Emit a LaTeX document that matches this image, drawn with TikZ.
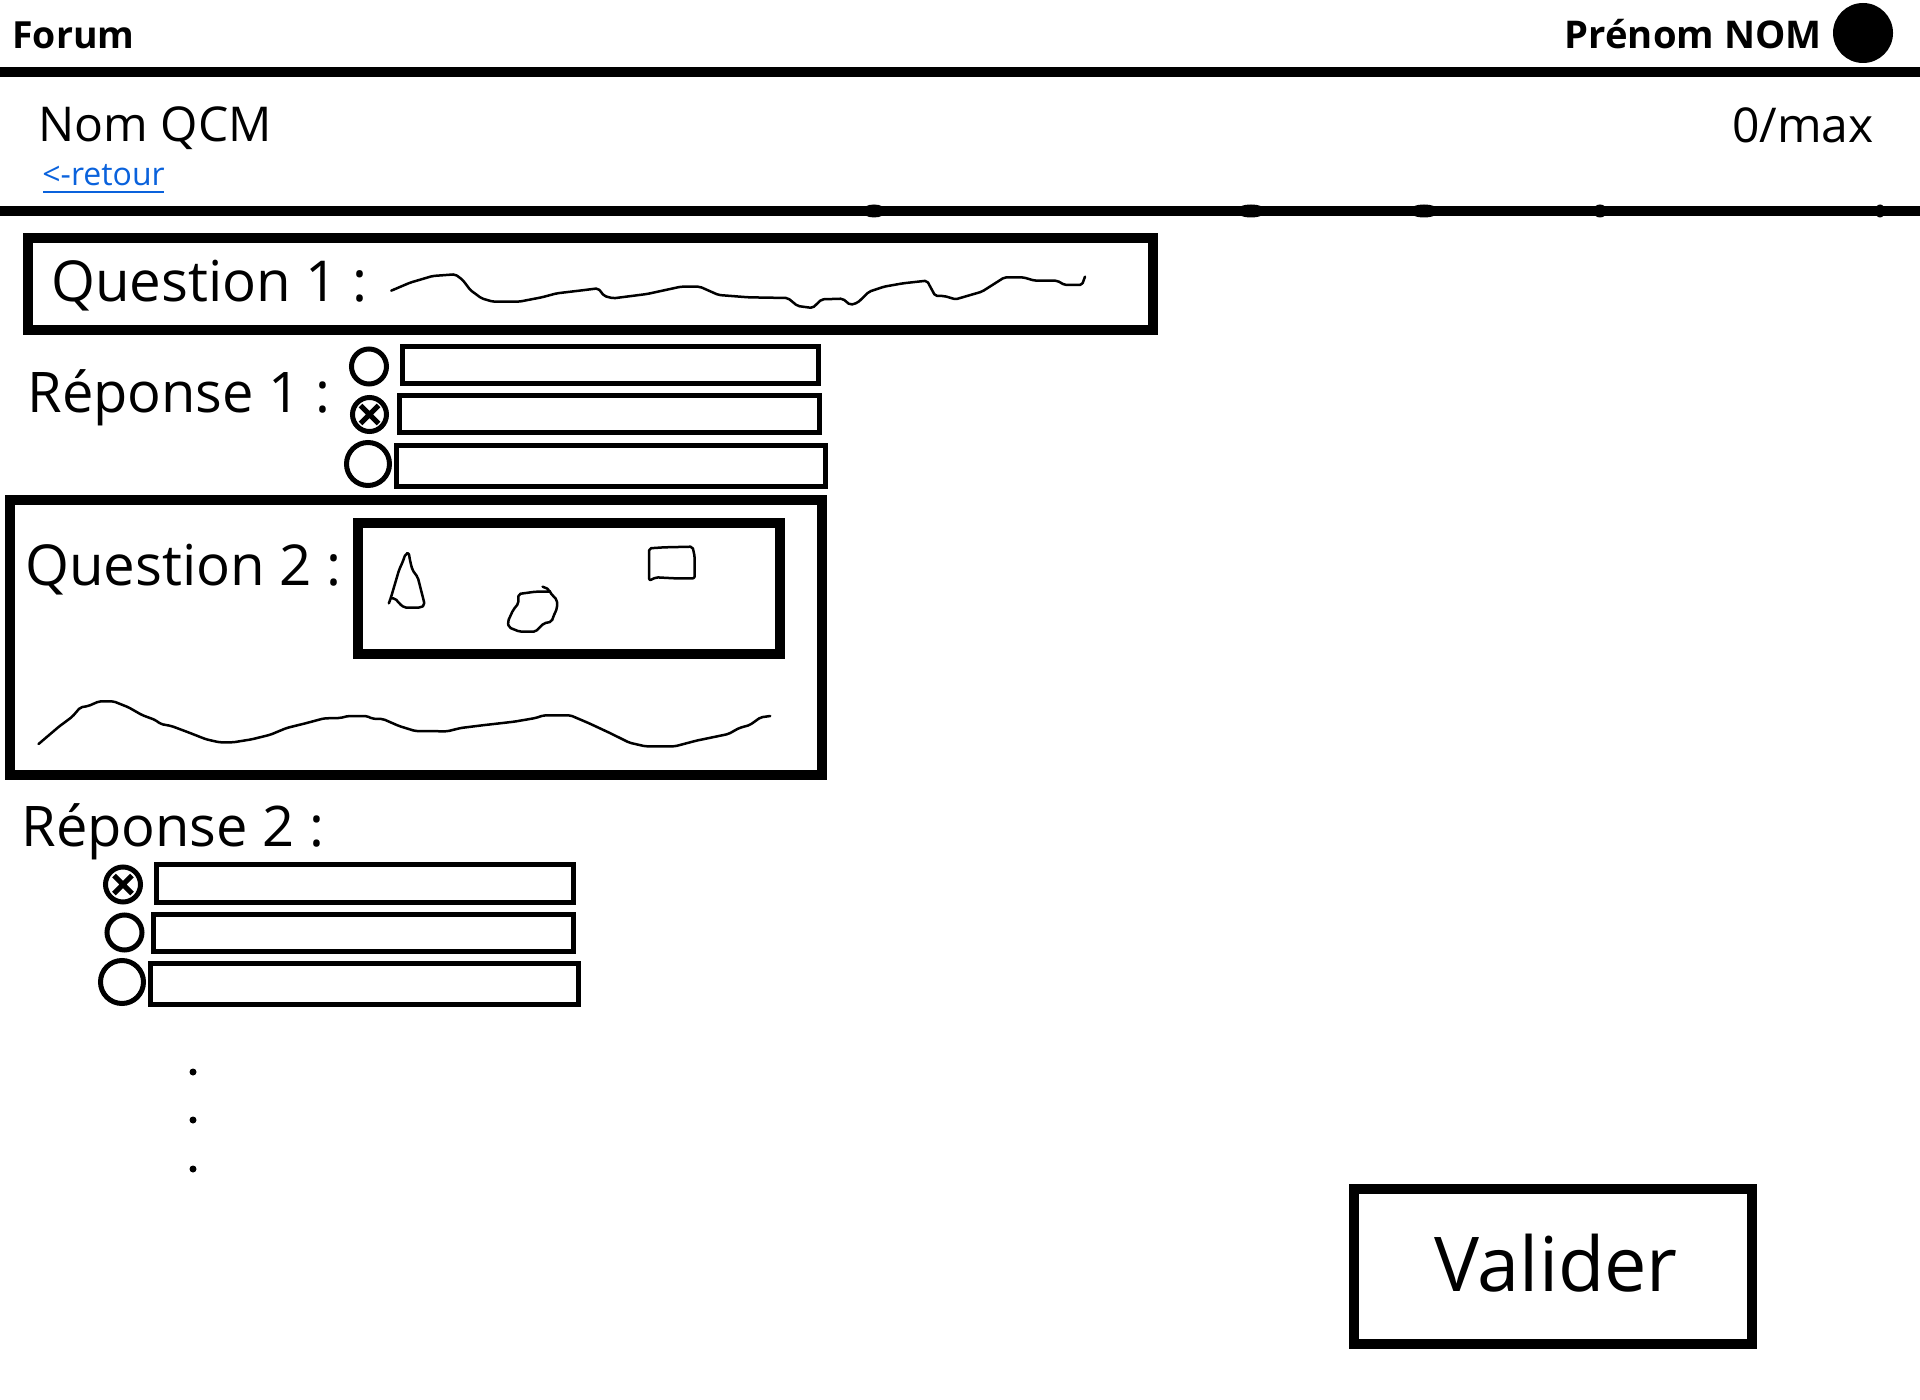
\documentclass[tikz,border=0pt]{standalone}
\usepackage{fontspec}
\setmainfont{Open Sans}
\usepackage{xcolor}
\definecolor{linkblue}{HTML}{0A62DC}

\begin{document}
\begin{tikzpicture}[
    x=0.5pt, y=-0.5pt,
    subtxt/.style={anchor=base west, inner sep=0pt, font=\fontsize{24pt}{29pt}\selectfont},
    qtxt/.style={anchor=base west, inner sep=0pt, font=\fontsize{28.2pt}{34pt}\selectfont},
    rtxt/.style={anchor=base west, inner sep=0pt, font=\fontsize{28pt}{34pt}\selectfont},
    rule/.style={line width=5pt},
    frame/.style={draw, line width=5pt},
    optbox/.style={draw, line width=2.5pt},
    radio/.style={draw, line width=2.5pt},
    scribble/.style={draw, line width=1.25pt, line join=round, line cap=round, rounded corners=1pt},
]
\useasboundingbox (0,0) rectangle (1920,1400);

% Header
\node[anchor=base west, inner sep=0pt, font=\bfseries\fontsize{18.7pt}{24pt}\selectfont] (forum) at (12,49) {Forum};
\node[anchor=base east, inner sep=0pt, font=\bfseries\fontsize{19.1pt}{24pt}\selectfont] (user) at (1822,49) {Prénom NOM};
\fill (1863,33) circle[radius=30];
\draw[rule] (0,72) -- (1920,72);

% Title bar
\node[subtxt] (title) at (38,142) {Nom QCM};
\node[subtxt, anchor=base east] (score) at (1874,143) {0/max};
\node[anchor=base west, inner sep=0pt, text=linkblue, font=\fontsize{16pt}{20pt}\selectfont] (back) at (42,186) {<-retour};
\draw[linkblue, line width=1pt] (43,192) -- (164,192);
\draw[rule] (0,211) -- (1920,211);
\fill (874,211) ellipse[x radius=12, y radius=6.5];
\fill (1251,211) ellipse[x radius=15, y radius=6.5];
\fill (1424,211) ellipse[x radius=15, y radius=6.5];
\fill (1600,211) ellipse[x radius=7, y radius=6.5];
\fill (1880,211) ellipse[x radius=5, y radius=6.5];

% Question 1
\draw[frame] (28,238) rectangle (1153,330);
\node[qtxt] (q1) at (51,302) {Question 1 :};
\begin{scope}[shift={(0,220)}, x=0.3762pt, y=-0.16667pt]
\draw[scribble] (520,212) -- (545,188) -- (575,168) -- (605,163) -- (615,180) -- (625,210) -- (640,235)
  -- (655,245) -- (690,245) -- (720,232) -- (740,220) -- (770,212) -- (795,205) -- (803,228) -- (815,235)
  -- (860,222) -- (905,200) -- (930,200) -- (955,225) -- (995,232) -- (1047,234) -- (1060,258) -- (1080,264)
  -- (1092,238) -- (1120,236) -- (1130,255) -- (1140,248) -- (1155,215) -- (1175,200) -- (1200,190)
  -- (1232,182) -- (1243,228) -- (1255,228) -- (1270,238) -- (1305,215) -- (1335,172) -- (1360,172)
  -- (1375,182) -- (1405,182) -- (1415,195) -- (1438,195) -- (1442,170);
\end{scope}

% Answers 1
\node[rtxt] (r1) at (27,413) {Réponse 1 :};
\draw[radio] (369,366.5) circle[radius=17.5];
\draw[radio] (369.5,414.5) circle[radius=17];
\draw[radio] (369.5,414.5) +(-9,-9) -- +(9,9) +(-9,9) -- +(9,-9);
\draw[radio] (368,464) circle[radius=21.5];
\draw[optbox] (402.5,346.5) rectangle (818.5,384);
\draw[optbox] (399.5,395.5) rectangle (819.5,432.5);
\draw[optbox] (396.5,445.5) rectangle (825,486.5);

% Question 2
\draw[frame] (10,500) rectangle (822,775);
\node[qtxt] (q2) at (25,586) {Question 2 :};
\draw[frame] (358,523) rectangle (780,654);
\begin{scope}[shift={(0,490)}, x=0.2678pt, y=-0.16667pt]
\draw[scribble] (72,762) -- (110,710) -- (135,680) -- (150,652) -- (165,648) -- (185,634) -- (212,634)
  -- (240,652) -- (265,675) -- (290,690) -- (300,702) -- (320,708) -- (350,726) -- (385,748) -- (410,757)
  -- (435,757) -- (470,748) -- (505,734) -- (535,714) -- (575,698) -- (605,685) -- (635,684) -- (650,678)
  -- (685,678) -- (695,686) -- (715,687) -- (745,708) -- (775,723) -- (835,724) -- (860,714) -- (900,706)
  -- (960,695) -- (1000,684) -- (1015,676) -- (1065,676) -- (1100,700) -- (1140,730) -- (1175,758)
  -- (1205,769) -- (1260,769) -- (1300,752) -- (1360,732) -- (1380,714) -- (1400,705) -- (1420,682) -- (1438,678);
% shapes in the image
\draw[scribble] (726,340) -- (730,322) -- (745,240) -- (752,215) -- (757,192) -- (763,188) -- (766,215)
  -- (770,240) -- (780,262) -- (790,325) -- (793,345) -- (785,353) -- (755,353) -- (745,340) -- (738,325) -- (730,325);
\draw[scribble] (1013,290) -- (1025,298) -- (1027,308) -- (1040,330) -- (1040,355) -- (1033,380) -- (1030,395)
  -- (1015,400) -- (1000,425) -- (970,425) -- (950,412) -- (948,395) -- (958,360) -- (968,340) -- (968,312)
  -- (1000,305) -- (1027,305);
\draw[scribble] (1212,272) -- (1212,175) -- (1240,172) -- (1293,170) -- (1297,200) -- (1297,265) -- (1260,265)
  -- (1225,262) -- cycle;
\end{scope}

% Answers 2
\node[rtxt] (r2) at (21,846) {Réponse 2 :};
\draw[radio] (123,884.5) circle[radius=17.5];
\draw[radio] (123,884.5) +(-9,-9) -- +(9,9) +(-9,9) -- +(9,-9);
\draw[radio] (124.5,932.5) circle[radius=17.5];
\draw[radio] (122,982) circle[radius=21.5];
\draw[optbox] (156.5,864) rectangle (573,902);
\draw[optbox] (153.5,914.5) rectangle (573.5,951);
\draw[optbox] (150.5,963.5) rectangle (578.5,1004.5);

% More questions
\fill (193,1072) circle[radius=3.5];
\fill (193,1120) circle[radius=3.5];
\fill (193,1169) circle[radius=3.5];

% Submit
\draw[frame] (1354,1189) rectangle (1752,1344);
\node[anchor=base west, inner sep=0pt, font=\fontsize{37.8pt}{47pt}\selectfont] (submit) at (1434,1291) {Valider};
\end{tikzpicture}
\end{document}
